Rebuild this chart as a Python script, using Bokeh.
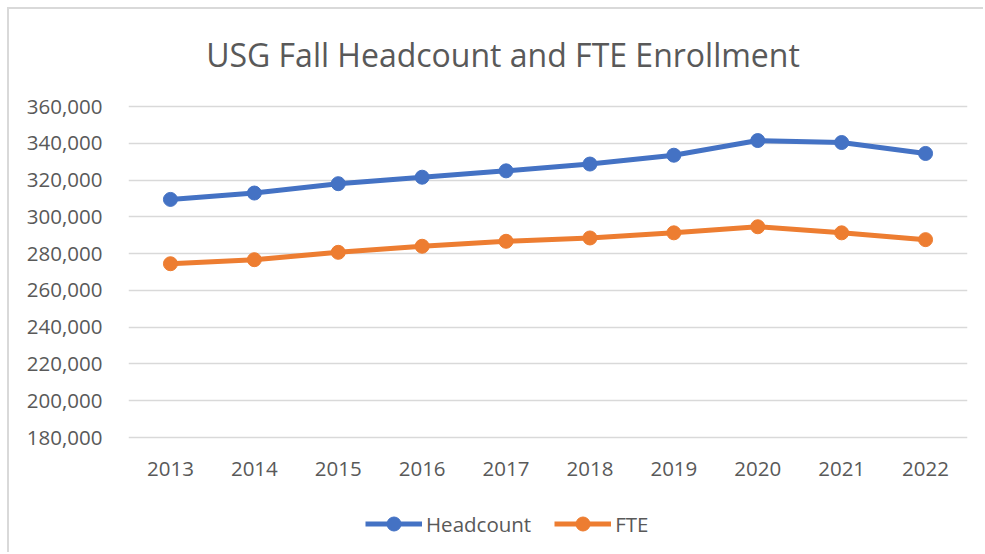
from bokeh.plotting import figure
from bokeh.models import (FactorRange, Range1d, NumeralTickFormatter, Legend, LegendItem,
                          FixedTicker, Label)
from bokeh.embed import file_html
from bokeh.resources import INLINE

title_text = "USG Fall Headcount and FTE Enrollment"
years = ["2013", "2014", "2015", "2016", "2017", "2018", "2019", "2020", "2021", "2022"]
headcount = [309469, 312936, 318027, 321551, 325000, 328712, 333507, 341485, 340408, 334459]
fte = [274500, 276700, 280700, 284000, 286700, 288500, 291300, 294600, 291300, 287600]
y_ticks = [180000, 200000, 220000, 240000, 260000, 280000, 300000, 320000, 340000, 360000]

FONT = "Open Sans"
TXT = "#595959"
BLUE = "#4472C4"
ORANGE = "#ED7D31"

W, H = 976, 545
LEFT, RIGHT = 119, 18
GRID_TOP, GRID_BOTTOM = 97, 428   # canvas pixels of the highest / lowest gridline
y_min, y_max = y_ticks[0], y_ticks[-1]
per_px = (y_max - y_min) / (GRID_BOTTOM - GRID_TOP)
y_start = y_min - (H - GRID_BOTTOM) * per_px
y_end = y_max + GRID_TOP * per_px

p = figure(width=W, height=H, x_range=FactorRange(*years, range_padding=0),
           y_range=Range1d(y_start, y_end), output_backend="svg", toolbar_location=None,
           title=None,
           min_border_left=LEFT, min_border_right=RIGHT, min_border_top=0, min_border_bottom=0)
p.styles = {"margin-left": "7px", "margin-top": "7px",
            "border-left": "2px solid #D9D9D9", "border-top": "2px solid #D9D9D9"}
p.outline_line_color = None
p.background_fill_color = "white"
p.border_fill_color = "white"

p.add_layout(Label(x=374.5, y=H - 45, x_units="screen", y_units="screen",
                   text=title_text, text_align="center", text_baseline="alphabetic",
                   text_font=FONT, text_font_size="32px", text_color=TXT))

p.xgrid.grid_line_color = None
p.ygrid.grid_line_color = "#D9D9D9"
p.ygrid.grid_line_width = 1.5

p.yaxis.ticker = FixedTicker(ticks=y_ticks)
p.yaxis.formatter = NumeralTickFormatter(format="0,0")
p.xaxis.fixed_location = y_min
for ax in (p.xaxis[0], p.yaxis[0]):
    ax.axis_line_color = None
    ax.major_tick_line_color = None
    ax.minor_tick_line_color = None
    ax.major_label_text_font = FONT
    ax.major_label_text_font_size = "20.5px"
    ax.major_label_text_color = TXT
p.yaxis.major_label_standoff = 20
p.xaxis.major_label_standoff = 18

l1 = p.line(years, headcount, line_color=BLUE, line_width=5)
c1 = p.scatter(years, headcount, size=14, fill_color=BLUE, line_color=BLUE)
l2 = p.line(years, fte, line_color=ORANGE, line_width=5)
c2 = p.scatter(years, fte, size=14, fill_color=ORANGE, line_color=ORANGE)

legend = Legend(items=[LegendItem(label="Headcount", renderers=[l1, c1]),
                       LegendItem(label="FTE", renderers=[l2, c2])],
                orientation="horizontal", location=(237, 13),
                background_fill_alpha=0, border_line_color=None,
                label_text_font=FONT, label_text_font_size="20.5px", label_text_color=TXT,
                glyph_width=57, glyph_height=35, spacing=23, padding=0, margin=0,
                label_standoff=4)
p.add_layout(legend, "center")

open("out.html", "w").write(file_html(p, INLINE))
